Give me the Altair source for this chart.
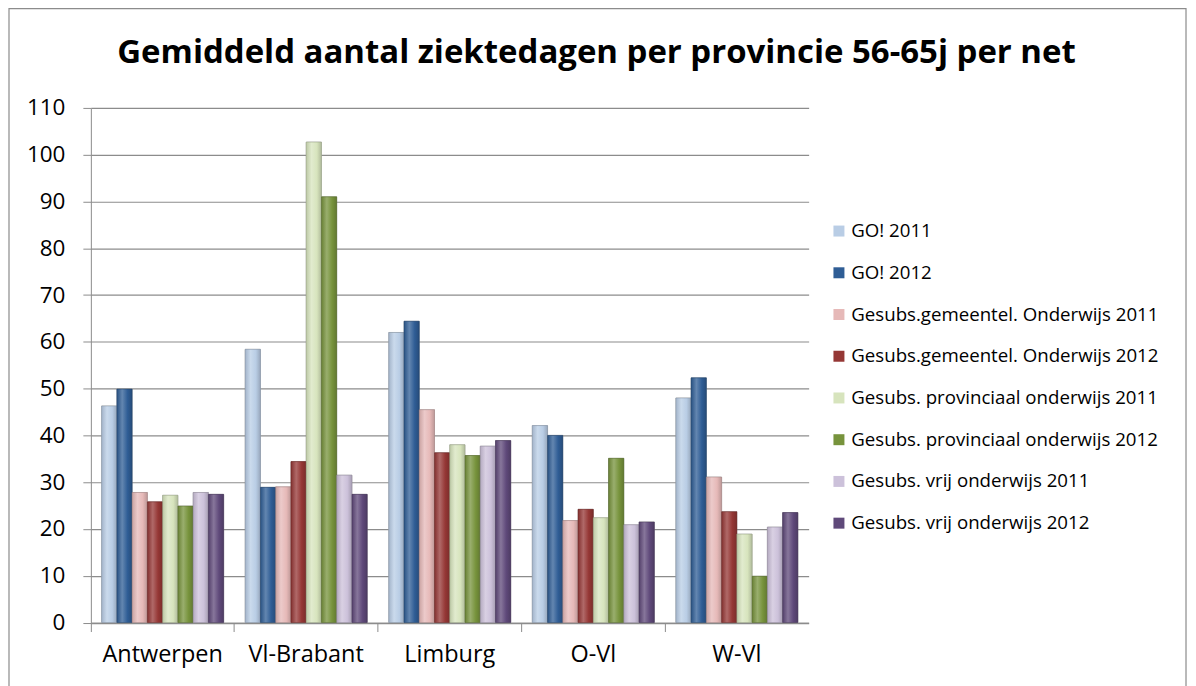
import altair as alt
import pandas as pd

title_text = "Gemiddeld aantal ziektedagen per provincie 56-65j per net"
provinces = ["Antwerpen", "Vl-Brabant", "Limburg", "O-Vl", "W-Vl"]
series = [
    "GO! 2011",
    "GO! 2012",
    "Gesubs.gemeentel. Onderwijs 2011",
    "Gesubs.gemeentel. Onderwijs 2012",
    "Gesubs. provinciaal onderwijs 2011",
    "Gesubs. provinciaal onderwijs 2012",
    "Gesubs. vrij onderwijs 2011",
    "Gesubs. vrij onderwijs 2012",
]
go_2011 = [46.3, 58.4, 62.0, 42.1, 48.0]
go_2012 = [49.9, 28.9, 64.4, 40.0, 52.3]
gem_2011 = [27.8, 29.0, 45.5, 21.8, 31.1]
gem_2012 = [25.8, 34.4, 36.3, 24.2, 23.7]
prov_2011 = [27.2, 102.7, 38.0, 22.4, 18.9]
prov_2012 = [24.9, 91.0, 35.7, 35.1, 9.9]
vrij_2011 = [27.8, 31.5, 37.7, 20.9, 20.4]
vrij_2012 = [27.4, 27.4, 38.9, 21.5, 23.5]
values = [go_2011, go_2012, gem_2011, gem_2012, prov_2011, prov_2012, vrij_2011, vrij_2012]

colors = ["#b9cde5", "#2f5d95", "#e6b9b8", "#953735",
          "#d7e4bd", "#77933c", "#ccc1da", "#5f497a"]

rows = []
for s, vals in zip(series, values):
    for p, v in zip(provinces, vals):
        rows.append({"provincie": p, "serie": s, "dagen": v})
df = pd.DataFrame(rows)

FONT = "Open Sans"


def mix(c, t, f):
    c = c.lstrip("#"); t = t.lstrip("#")
    a = [int(c[i:i + 2], 16) for i in (0, 2, 4)]
    b = [int(t[i:i + 2], 16) for i in (0, 2, 4)]
    return "#" + "".join(f"{round(x + (y - x) * f):02x}" for x, y in zip(a, b))


xscale = alt.Scale(paddingInner=0.15, paddingOuter=0.075)
xenc = alt.X("provincie:N", sort=provinces, scale=xscale,
             axis=alt.Axis(title=None, ticks=False, labelFontSize=23.5, labelFont=FONT,
                           labelColor="#000000", labelPadding=20, domain=True,
                           domainColor="#8c8c8c", labelAngle=0, orient="bottom"))
xoff = alt.XOffset("serie:N", sort=series, scale=alt.Scale(domain=series, paddingInner=0, paddingOuter=0))
yenc = alt.Y("dagen:Q",
             scale=alt.Scale(domain=[0, 110], nice=False),
             axis=alt.Axis(title=None, values=list(range(0, 111, 10)), labelFontSize=22.5,
                           labelFont=FONT, labelColor="#000000", tickSize=8, tickColor="#8c8c8c",
                           domainColor="#8c8c8c", gridColor="#8c8c8c", gridWidth=1.2,
                           labelPadding=18, grid=True))

base = alt.Chart(df)

flat = base.mark_bar(stroke="#9a9a9a", strokeWidth=0.5).encode(
    x=xenc, xOffset=xoff, y=yenc,
    color=alt.Color("serie:N", sort=series,
                    scale=alt.Scale(domain=series, range=colors),
                    legend=alt.Legend(title=None, orient="none", legendX=740, legendY=114,
                                      labelFont=FONT, labelFontSize=18.7, labelColor="#000000",
                                      symbolType="square", symbolSize=121, symbolStrokeWidth=0,
                                      rowPadding=21.8, labelLimit=400, padding=0,
                                      labelOffset=3)),
)

grads = []
for s, c in zip(series, colors):
    grad = alt.Gradient(
        gradient="linear", x1=0, x2=1, y1=0, y2=0,
        stops=[alt.GradientStop(color=mix(c, "#000000", 0.12), offset=0),
               alt.GradientStop(color=mix(c, "#ffffff", 0.25), offset=0.35),
               alt.GradientStop(color=c, offset=0.7),
               alt.GradientStop(color=mix(c, "#000000", 0.18), offset=1)])
    grads.append(
        base.transform_filter(alt.datum.serie == s)
        .mark_bar(color=grad, stroke=mix(c, "#000000", 0.3), strokeWidth=0.5)
        .encode(x=alt.X("provincie:N", sort=provinces), xOffset=alt.XOffset("serie:N", sort=series),
                y="dagen:Q")
    )

bars = alt.layer(flat, *grads)

# tick marks between categories (Excel style)
ticks_layer = base.mark_bar(opacity=0).encode(
    x=alt.X("provincie:N", sort=provinces,
            axis=alt.Axis(title=None, labels=False, domain=False, ticks=True, tickSize=9,
                          tickColor="#8c8c8c", bandPosition=-0.088, grid=False,
                          orient="bottom")),
    y=alt.Y("dagen:Q"),
)

deco = alt.Chart(pd.DataFrame({"t": [title_text]}))
frame = deco.mark_rect(
    fill=None, stroke="#8c8c8c", strokeWidth=1.2, clip=False
).encode(x=alt.value(-82), x2=alt.value(1097), y=alt.value(-99.5), y2=alt.value(640))

title = deco.mark_text(
    font=FONT, fontSize=33, fontWeight="bold", color="#000000",
    align="center", baseline="alphabetic", clip=False
).encode(text="t:N", x=alt.value(506.5), y=alt.value(-44.5))

chart = alt.layer(bars, ticks_layer, frame, title).resolve_axis(x="independent").properties(
    width=719,
    height=515.5,
    padding={"left": 83, "top": 99.5, "right": 380, "bottom": 70},
    autosize=alt.AutoSizeParams(type="none"),
).configure_view(stroke=None)

chart.save("out.html", embed_options={"renderer": "svg", "actions": False})
